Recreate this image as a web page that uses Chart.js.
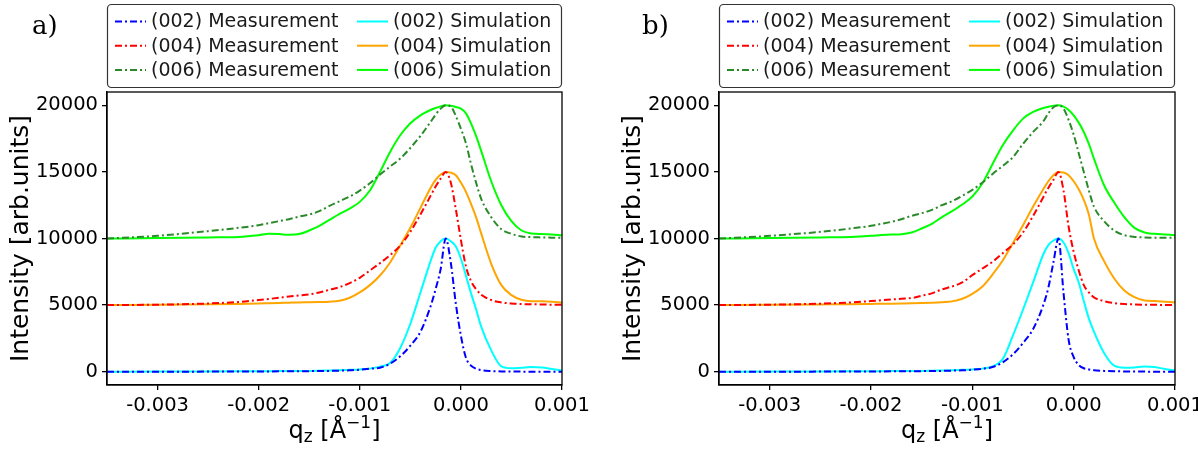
<!DOCTYPE html>
<html>
<head>
<meta charset="utf-8">
<script src="https://cdn.jsdelivr.net/npm/chart.js@4.4.0/dist/chart.umd.min.js"></script>
<style>
  html, body { margin:0; padding:0; background:#fff; }
  #wrap { position:relative; width:1198px; height:450px; }
  .panel { position:absolute; top:0; height:450px; }
  #panelA { left:0; width:600px; }
  #panelB { left:600px; width:598px; }
</style>
</head>
<body>
<div id="wrap">
  <div class="panel" id="panelA"><canvas id="chartA"></canvas></div>
  <div class="panel" id="panelB"><canvas id="chartB"></canvas></div>
</div>
<script>
// ---- DATA ----
const qz = [-0.0035,-0.003,-0.0025,-0.0022,-0.002,-0.0019,-0.0018,-0.0017,-0.0016,-0.0015,
            -0.0014,-0.0013,-0.0012,-0.0011,-0.001,-0.0009,-0.0008,-0.0007,-0.0006,-0.0005,
            -0.0004,-0.0003,-0.00025,-0.0002,-0.00015,-0.0001,-0.00005,0,0.00005,0.0001,
            0.00015,0.0002,0.0003,0.0004,0.0005,0.0006,0.0007,0.0008,0.0009,0.001];

// panel a)
const aMeas002 = [0,0,5,10,15,20,25,30,35,40,50,60,80,100,150,220,300,600,1150,1950,
                  3000,4900,6200,7700,10000,8200,5100,2700,1050,450,220,120,50,20,10,5,0,0,0,0];
const aMeas004 = [5000,5030,5120,5230,5380,5460,5550,5650,5720,5800,5950,6150,6350,6650,7050,7600,8150,8750,9470,10500,
                  11800,13200,13900,14500,15000,14200,12200,9900,7900,6800,6200,5780,5380,5200,5120,5080,5060,5050,5030,5020];
const aMeas006 = [10000,10200,10550,10800,11000,11150,11300,11450,11650,11800,12050,12450,12800,13150,13600,14150,14800,15400,16000,16800,
                  17700,18750,19300,19750,20000,19900,19200,18250,17150,15600,14200,13000,11600,10700,10350,10150,10100,10080,10060,10050];
const aSim002  = [0,5,15,25,35,40,45,50,55,60,70,90,110,140,170,230,380,650,1780,3600,
                  5950,8300,9300,9800,10000,9800,9400,8500,7200,5900,4700,3400,1600,400,260,300,350,320,200,80];
const aSim004  = [5000,5020,5060,5090,5120,5140,5160,5180,5200,5210,5230,5260,5330,5550,5950,6500,7220,8200,9470,10800,
                  12300,13800,14400,14800,15000,14950,14750,14200,13500,12600,11600,10400,8100,6500,5750,5400,5290,5280,5250,5200];
const aSim006  = [10000,10030,10080,10120,10250,10350,10330,10280,10330,10600,10950,11400,11850,12250,12750,13600,15000,16500,17750,18650,
                  19250,19650,19800,19920,20000,19960,19880,19750,19400,18650,17700,16600,14300,12500,11300,10600,10380,10330,10300,10250];

// panel b)
const bMeas002 = [0,0,5,10,15,20,25,30,35,40,50,60,80,100,150,220,350,700,1300,2150,
                  3200,5000,6300,8200,10000,5900,2400,1100,500,260,170,110,60,30,20,10,5,0,0,0];
const bMeas004 = [5000,5030,5110,5200,5300,5360,5420,5480,5530,5700,5880,6180,6400,6700,7250,7750,8250,8900,9550,10450,
                  11700,13100,13800,14400,15000,13600,10900,9000,7600,6500,5950,5580,5300,5150,5080,5050,5030,5020,5010,5010];
const bMeas006 = [10000,10200,10500,10750,10950,11100,11250,11450,11700,11900,12150,12500,12800,13200,13650,14200,14850,15450,16100,17100,
                  18000,18800,19400,19850,20000,19750,18900,17800,16400,15000,13600,12400,11300,10600,10250,10120,10080,10060,10050,10050];
const bSim002  = [0,5,15,25,35,40,45,50,55,60,70,90,110,140,170,230,400,950,2700,4650,
                  6700,8800,9500,9850,10000,9700,8900,7700,6700,5300,4000,3000,1400,450,300,320,380,350,200,100];
const bSim004  = [5000,5020,5050,5070,5090,5100,5110,5120,5130,5150,5180,5220,5280,5480,5850,6400,7300,8350,9650,11000,
                  12400,13700,14300,14750,15000,14950,14750,14300,13700,12900,11800,10000,8300,7000,6100,5600,5350,5300,5250,5200];
const bSim006  = [10000,10030,10080,10120,10200,10260,10300,10320,10450,10750,11100,11600,12050,12550,13150,14150,15600,17000,18100,19000,
                  19500,19800,19900,19970,20000,19900,19650,19250,18700,18000,17100,16000,14000,12700,11600,10800,10450,10350,10300,10250];

const seriesLabels = ["(002) Measurement","(004) Measurement","(006) Measurement",
                      "(002) Simulation","(004) Simulation","(006) Simulation"];
const seriesColors = ["#0000ff","#ff0000","#2a8a2a","#00ffff","#ffa500","#00ff00"];

const xTickValues = [-0.003,-0.002,-0.001,0,0.001];
const xTickLabels = ["-0.003","-0.002","-0.001","0.000","0.001"];
const yTickValues = [0,5000,10000,15000,20000];
const yTickLabels = ["0","5000","10000","15000","20000"];

// ---- STYLE ----
Chart.defaults.font.family = '"DejaVu Sans", sans-serif';
Chart.defaults.color = "#000";
const DASHDOT = [7,3,2,3];
const PLOT_TOP = 92, XAXIS_H = 65;

// ---- DECORATION PLUGIN (frame, legend box, panel letter, x title) ----
const decor = {
  id: "decor",
  afterDraw(chart, args, o){
    const ctx = chart.ctx, ca = chart.chartArea;
    ctx.save();
    // full frame
    ctx.strokeStyle = "#000"; ctx.lineWidth = 1.3; ctx.setLineDash([]);
    ctx.strokeRect(ca.left, ca.top, ca.right-ca.left, ca.bottom-ca.top);

    // legend box
    const bx = ca.left, by = 4, bw = ca.right-ca.left, bh = 83;
    ctx.beginPath();
    ctx.roundRect(bx+0.5, by+0.5, bw-1, bh, 4);
    ctx.fillStyle = "#fff"; ctx.fill();
    ctx.strokeStyle = "#333"; ctx.lineWidth = 1.2; ctx.stroke();

    ctx.font = '19px "DejaVu Sans"';
    ctx.textBaseline = "middle"; ctx.textAlign = "left";
    chart.data.datasets.forEach((ds,i)=>{
      const col = i < 3 ? 0 : 1, row = i % 3;
      const x0 = bx + (col ? 250 : 8);
      const y = 21.5 + row*24.2;
      ctx.beginPath();
      ctx.setLineDash(ds.borderDash||[]);
      ctx.strokeStyle = ds.borderColor; ctx.lineWidth = 2;
      ctx.moveTo(x0, y); ctx.lineTo(x0+31, y); ctx.stroke();
      ctx.setLineDash([]);
      ctx.fillStyle = "#1a1a1a";
      ctx.fillText(ds.label, x0+36, y+1);
    });

    // panel letter
    ctx.font = '26px "DejaVu Serif"';
    ctx.textBaseline = "alphabetic";
    ctx.fillStyle = "#000";
    ctx.fillText(o.letter, o.letterX, 34);

    // x title  q_z [Å^-1]
    const runs = [
      {t:"q", size:24, dy:0}, {t:"z", size:17, dy:4},
      {t:" [Å", size:24, dy:0}, {t:"\u22121", size:17, dy:-10}, {t:"]", size:24, dy:0}
    ];
    let total = 0;
    runs.forEach(r=>{ ctx.font = r.size+'px "DejaVu Sans"'; r.w = ctx.measureText(r.t).width; total += r.w; });
    let x = (ca.left+ca.right)/2 - total/2;
    runs.forEach(r=>{ ctx.font = r.size+'px "DejaVu Sans"'; ctx.fillText(r.t, x, 438+r.dy); x += r.w; });
    ctx.restore();
  }
};

function makeChart(id, series, cfg){
  const datasets = series.map((vals,i)=>({
    label: seriesLabels[i],
    data: qz.map((q,k)=>({x:q, y:vals[k]})),
    borderColor: seriesColors[i],
    borderDash: i < 3 ? DASHDOT : [],
    borderWidth: 2,
    borderCapStyle: "butt",
    pointRadius: 0,
    cubicInterpolationMode: "monotone",
    fill: false
  }));
  return new Chart(document.getElementById(id), {
    type: "line",
    data: { datasets },
    options: {
      responsive: true, maintainAspectRatio: false, animation: false,
      layout: { padding: { top: PLOT_TOP, right: cfg.padRight, bottom: 0, left: 0 } },
      plugins: { legend:{display:false}, tooltip:{enabled:false}, decor: cfg },
      scales: {
        x: {
          type: "linear", min: -0.0035, max: 0.001,
          afterBuildTicks: s => { s.ticks = xTickValues.map(v=>({value:v})); },
          afterFit: s => { s.height = XAXIS_H; s.paddingLeft = 0; s.paddingRight = 0; },
          ticks: { callback:(v,i)=>xTickLabels[i], font:{size:19.5}, color:"#000", padding:4, maxRotation:0, autoSkip:false },
          grid: { display:true, drawOnChartArea:false, drawTicks:true, tickLength:5, color:"#000", lineWidth:1.3 },
          border: { display:true, color:"#000", width:1.3 }
        },
        y: {
          type: "linear", min: -1000, max: 21000,
          afterBuildTicks: s => { s.ticks = yTickValues.map(v=>({value:v})); },
          afterFit: s => { s.width = cfg.plotLeft; s.paddingTop = 0; s.paddingBottom = 0; },
          ticks: { callback:(v,i)=>yTickLabels[i], font:{size:19.5}, color:"#000", padding:4, autoSkip:false },
          grid: { display:true, drawOnChartArea:false, drawTicks:true, tickLength:5, color:"#000", lineWidth:1.3 },
          border: { display:true, color:"#000", width:1.3 },
          title: { display:true, text:"Intensity [arb.units]", font:{size:25}, color:"#000", padding:{top:cfg.titlePad, bottom:0} }
        }
      }
    },
    plugins: [decor]
  });
}

makeChart("chartA", [aMeas002,aMeas004,aMeas006,aSim002,aSim004,aSim006],
  { plotLeft:107, padRight:38, titlePad:6, letter:"a)", letterX:32 });
makeChart("chartB", [bMeas002,bMeas004,bMeas006,bSim002,bSim004,bSim006],
  { plotLeft:119, padRight:23, titlePad:18, letter:"b)", letterX:42 });
</script>
</body>
</html>
